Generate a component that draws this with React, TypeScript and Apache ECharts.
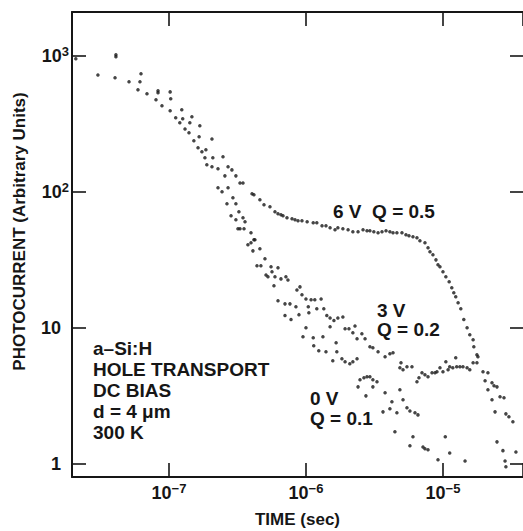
import React, { useEffect, useRef } from 'react';
import * as echarts from 'echarts';

const FONT = '"Liberation Sans", Arial, Helvetica, sans-serif';
const INK = '#161616';

// ---- data: time (s) and photocurrent (arbitrary units) ----
const time6V = [2.09e-8, 3.03e-8, 4.10e-8, 5.11e-8, 6.25e-8, 8.32e-8, 1.02e-7, 1.24e-7, 1.47e-7, 1.68e-7, 2.06e-7, 2.48e-7, 2.70e-7, 2.88e-7, 3.08e-7, 3.30e-7, 3.47e-7, 4.04e-7, 4.17e-7, 4.61e-7, 4.94e-7, 5.46e-7, 5.94e-7, 6.25e-7, 6.57e-7, 6.80e-7, 7.27e-7, 7.91e-7, 8.32e-7, 8.75e-7, 9.35e-7, 1.02e-6, 1.13e-6, 1.20e-6, 1.31e-6, 1.40e-6, 1.50e-6, 1.63e-6, 1.71e-6, 1.86e-6, 2.03e-6, 2.20e-6, 2.40e-6, 2.61e-6, 2.79e-6, 2.93e-6, 3.13e-6, 3.36e-6, 3.59e-6, 3.84e-6, 4.10e-6, 4.32e-6, 4.61e-6, 5.02e-6, 5.37e-6, 5.65e-6, 6.04e-6, 6.46e-6, 6.79e-6, 7.39e-6, 7.78e-6, 8.04e-6, 8.45e-6, 8.89e-6, 9.20e-6, 9.51e-6, 1.00e-5, 1.05e-5, 1.11e-5, 1.16e-5, 1.20e-5, 1.24e-5, 1.29e-5, 1.35e-5, 1.42e-5, 1.50e-5, 1.57e-5, 1.66e-5, 1.68e-5, 1.77e-5, 1.80e-5, 1.96e-5, 2.13e-5, 2.28e-5, 2.36e-5, 2.48e-5, 2.61e-5, 2.79e-5, 2.88e-5, 3.03e-5, 3.24e-5, 3.41e-5];
const current6V = [951, 724, 1017, 644, 738, 553, 543, 401, 356, 306, 245, 181, 153, 145, 131, 116, 116, 96.7, 95, 87.3, 80.2, 77.6, 71.3, 68.9, 67.8, 66.6, 64.4, 63.3, 62.3, 61.2, 61.2, 60.2, 59.2, 59.2, 56.2, 56.2, 54.4, 52.6, 54.4, 53.5, 52.6, 50.8, 50.8, 52.6, 51.7, 51.7, 50.8, 50.0, 50.8, 51.7, 50.8, 50.0, 50.0, 50.0, 48.3, 47.5, 46.7, 45.9, 43.6, 42.2, 38.8, 36.2, 34.4, 31.6, 29.1, 28.1, 25.8, 23.7, 21.8, 19.7, 18.1, 16.9, 15.3, 13.8, 11.5, 10.0, 8.88, 8.16, 7.25, 6.33, 6.12, 4.75, 4.67, 3.94, 3.75, 3.68, 3.11, 3.06, 2.33, 2.22, 2.04, 1.22];

const time3V = [4.10e-8, 4.04e-8, 6.14e-8, 5.94e-8, 6.91e-8, 8.32e-8, 8.04e-8, 1.03e-7, 8.89e-8, 1.02e-7, 1.12e-7, 1.26e-7, 1.42e-7, 1.66e-7, 1.86e-7, 2.09e-7, 2.28e-7, 2.56e-7, 2.70e-7, 3.08e-7, 3.24e-7, 3.47e-7, 3.59e-7, 3.97e-7, 4.24e-7, 4.61e-7, 5.02e-7, 5.56e-7, 5.94e-7, 6.25e-7, 6.57e-7, 7.14e-7, 7.39e-7, 8.59e-7, 9.04e-7, 9.35e-7, 1.00e-6, 1.09e-6, 1.16e-6, 1.29e-6, 1.42e-6, 1.50e-6, 1.60e-6, 1.71e-6, 1.86e-6, 1.93e-6, 2.06e-6, 2.28e-6, 2.20e-6, 2.36e-6, 2.56e-6, 2.70e-6, 2.93e-6, 3.08e-6, 3.36e-6, 3.78e-6, 4.10e-6, 4.32e-6, 4.94e-6, 4.85e-6, 5.11e-6, 5.46e-6, 5.94e-6, 6.46e-6, 6.68e-6, 7.03e-6, 7.39e-6, 7.78e-6, 8.32e-6, 8.75e-6, 9.04e-6, 9.51e-6, 1.00e-5, 1.05e-5, 1.09e-5, 1.12e-5, 1.18e-5, 1.24e-5, 1.26e-5, 1.33e-5, 1.40e-5, 1.50e-5, 1.57e-5, 1.66e-5, 1.77e-5, 2.03e-5, 2.13e-5, 2.28e-5, 2.40e-5, 2.48e-5, 2.74e-5, 2.84e-5, 2.88e-5];
const current3V = [984, 689, 644, 562, 526, 535, 475, 483, 429, 394, 350, 344, 322, 254, 204, 178, 148, 131, 107, 81.6, 71.3, 64.4, 60.2, 50.0, 44.4, 38.1, 32.2, 28.1, 23.7, 27.6, 22.9, 23.7, 22.5, 19.0, 20.0, 17.5, 16.3, 16.1, 16.1, 16.3, 12.3, 11.8, 11.3, 11.8, 12.0, 9.83, 9.83, 10.3, 9.19, 8.30, 9.03, 8.30, 7.25, 7.13, 6.66, 6.12, 6.44, 6.55, 5.53, 5.08, 4.91, 5.17, 5.17, 4.01, 4.29, 4.67, 4.51, 4.36, 4.67, 4.67, 4.75, 5.08, 4.75, 5.62, 4.91, 5.17, 5.08, 6.02, 5.17, 5.17, 5.17, 5.08, 4.91, 5.53, 5.53, 4.08, 3.50, 2.96, 2.41, 1.45, 1.25, 1.05, 0.95];

const time0V = [1.20e-7, 1.31e-7, 1.40e-7, 1.52e-7, 1.63e-7, 1.74e-7, 1.83e-7, 1.89e-7, 2.06e-7, 2.28e-7, 2.44e-7, 2.65e-7, 2.93e-7, 2.84e-7, 3.08e-7, 3.19e-7, 3.30e-7, 3.53e-7, 3.77e-7, 3.97e-7, 4.17e-7, 4.10e-7, 4.39e-7, 4.69e-7, 5.11e-7, 5.28e-7, 5.65e-7, 5.84e-7, 6.25e-7, 7.03e-7, 7.64e-7, 8.45e-7, 7.03e-7, 7.78e-7, 8.89e-7, 1.04e-6, 1.05e-6, 1.20e-6, 1.35e-6, 1.00e-6, 9.51e-7, 1.13e-6, 1.33e-6, 1.50e-6, 1.66e-6, 1.14e-6, 1.24e-6, 1.40e-6, 1.68e-6, 1.57e-6, 1.83e-6, 1.93e-6, 2.09e-6, 2.20e-6, 2.36e-6, 2.40e-6, 2.48e-6, 2.65e-6, 2.79e-6, 2.93e-6, 3.08e-6, 3.30e-6, 2.74e-6, 3.08e-6, 3.78e-6, 4.24e-6, 4.85e-6, 5.11e-6, 3.65e-6, 4.10e-6, 4.61e-6, 5.46e-6, 5.74e-6, 6.25e-6, 6.57e-6, 4.46e-6, 6.04e-6, 5.74e-6, 7.15e-6, 7.39e-6, 7.78e-6, 1.04e-5, 9.20e-6, 1.12e-5, 1.45e-5];
const current0V = [322, 290, 272, 237, 211, 197, 178, 158, 153, 107, 100, 81.6, 90.3, 66.6, 62.3, 53.5, 53.5, 53.5, 40.8, 42.2, 44.4, 36.8, 28.6, 28.6, 24.5, 23.7, 25.8, 20.4, 15.8, 15.0, 15.0, 14.3, 12.3, 11.5, 12.5, 14.3, 12.9, 13.8, 13.8, 10.0, 8.59, 8.44, 8.59, 10.2, 7.76, 7.37, 6.78, 6.66, 6.66, 5.72, 5.92, 5.62, 5.44, 5.62, 5.92, 3.68, 4.15, 4.29, 4.36, 4.36, 4.15, 4.01, 3.16, 3.68, 3.33, 2.86, 3.50, 2.96, 2.41, 2.54, 2.37, 2.58, 2.45, 2.37, 2.29, 1.72, 1.58, 1.36, 1.33, 1.29, 1.27, 1.58, 1.07, 1.20, 1.05];

const seriesNames = ['6 V  Q = 0.5', '3 V  Q = 0.2', '0 V  Q = 0.1'];
const label6V = '6 V  Q = 0.5';
const label3V = ['3 V', 'Q = 0.2'];
const label0V = ['0 V', 'Q = 0.1'];
const infoLines = ['a–Si:H', 'HOLE TRANSPORT', 'DC BIAS', 'd = 4 μm', '300 K'];

const X_MIN = 1.96e-8;
const X_MAX = 3.84e-5;
const Y_MIN = 0.8;
const Y_MAX = 2100;

const zip = (xs: number[], ys: number[]) => xs.map((x, i) => [x, ys[i]]);

function decade(v: number): number | null {
  const l = Math.log10(v);
  const e = Math.round(l);
  return Math.abs(l - e) < 1e-3 ? e : null;
}

const labelRich = {
  b: { fontFamily: FONT, fontSize: 18, fontWeight: 'bold', color: INK, lineHeight: 22 },
  s: { fontFamily: FONT, fontSize: 13, fontWeight: 'bold', color: INK, verticalAlign: 'top', lineHeight: 14 },
  p: { width: 8 },
};

const textStyle = (lineHeight: number) => ({
  fontFamily: FONT, fontSize: 19, fontWeight: 'bold', fill: INK, lineHeight,
});

export default function App() {
  const ref = useRef<HTMLDivElement>(null);
  useEffect(() => {
    const chart = echarts.init(ref.current!, undefined, { renderer: 'svg' });
    const tickStyle = { color: INK, width: 1.6 };
    const lineStyle = { color: INK, width: 2 };
    const option: any = {
      animation: false,
      backgroundColor: '#ffffff',
      grid: { left: 72, top: 12, right: 0, bottom: 54, containLabel: false, outerBoundsMode: 'none' },
      xAxis: [
        {
          type: 'log', logBase: 10, min: X_MIN, max: X_MAX, position: 'bottom',
          axisLine: { show: true, onZero: false, lineStyle },
          axisTick: { show: true, inside: true, length: 14, lineStyle: tickStyle },
          minorTick: { show: false }, splitLine: { show: false },
          axisLabel: {
            margin: 5,
            formatter: (v: number) => {
              const e = decade(v);
              if (e === null) return '';
              return `{b|10}{s|${e < 0 ? '−' : ''}${Math.abs(e)}}`;
            },
            rich: labelRich,
          },
          name: 'TIME (sec)', nameLocation: 'middle', nameGap: 34,
          nameTextStyle: { fontFamily: FONT, fontSize: 17, fontWeight: 'bold', color: INK },
        },
        {
          type: 'log', logBase: 10, min: X_MIN, max: X_MAX, position: 'top',
          axisLine: { show: true, onZero: false, lineStyle },
          axisTick: { show: true, inside: true, length: 14, lineStyle: tickStyle },
          axisLabel: { show: false }, splitLine: { show: false }, minorTick: { show: false },
        },
      ],
      yAxis: [
        {
          type: 'log', logBase: 10, min: Y_MIN, max: Y_MAX, position: 'left',
          axisLine: { show: true, onZero: false, lineStyle },
          axisTick: { show: true, inside: true, length: 14, lineStyle: tickStyle },
          minorTick: { show: false }, splitLine: { show: false },
          axisLabel: {
            margin: 3,
            formatter: (v: number) => {
              const e = decade(v);
              if (e === null) return '';
              if (e === 0) return '{b|1}{p|}';
              if (e === 1) return '{b|10}{p|}';
              return `{b|10}{s|${e}}`;
            },
            rich: labelRich,
          },
          name: 'PHOTOCURRENT (Arbitrary Units)', nameLocation: 'middle', nameGap: 44,
          nameTextStyle: { fontFamily: FONT, fontSize: 17, fontWeight: 'bold', color: INK, padding: [0, 0, 0, 26] },
        },
        {
          type: 'log', logBase: 10, min: Y_MIN, max: Y_MAX, position: 'right',
          axisLine: { show: false, onZero: false, lineStyle },
          axisTick: { show: true, inside: true, length: 13, lineStyle: tickStyle },
          axisLabel: { show: false }, splitLine: { show: false }, minorTick: { show: false },
        },
      ],
      series: [
        [time6V, current6V],
        [time3V, current3V],
        [time0V, current0V],
      ].map(([t, c], i) => ({
        name: seriesNames[i],
        type: 'scatter',
        xAxisIndex: 0,
        yAxisIndex: 0,
        symbol: 'circle',
        symbolSize: 3.5,
        silent: true,
        itemStyle: { color: INK },
        data: zip(t as number[], c as number[]),
      })),
      graphic: [
        { type: 'text', left: 333, top: 201, style: { text: label6V, ...textStyle(20) } },
        { type: 'text', left: 377, top: 301, style: { text: label3V.join('\n'), ...textStyle(19) } },
        { type: 'text', left: 310, top: 389, style: { text: label0V.join('\n'), ...textStyle(19.5) } },
        { type: 'text', left: 93, top: 338, style: { text: infoLines.join('\n'), ...textStyle(21) } },
      ],
    };
    chart.setOption(option);
    return () => chart.dispose();
  }, []);
  return (
    <div
      ref={ref}
      style={{ position: 'fixed', left: 0, top: 0, width: 523, height: 531, background: '#fff' }}
    />
  );
}
